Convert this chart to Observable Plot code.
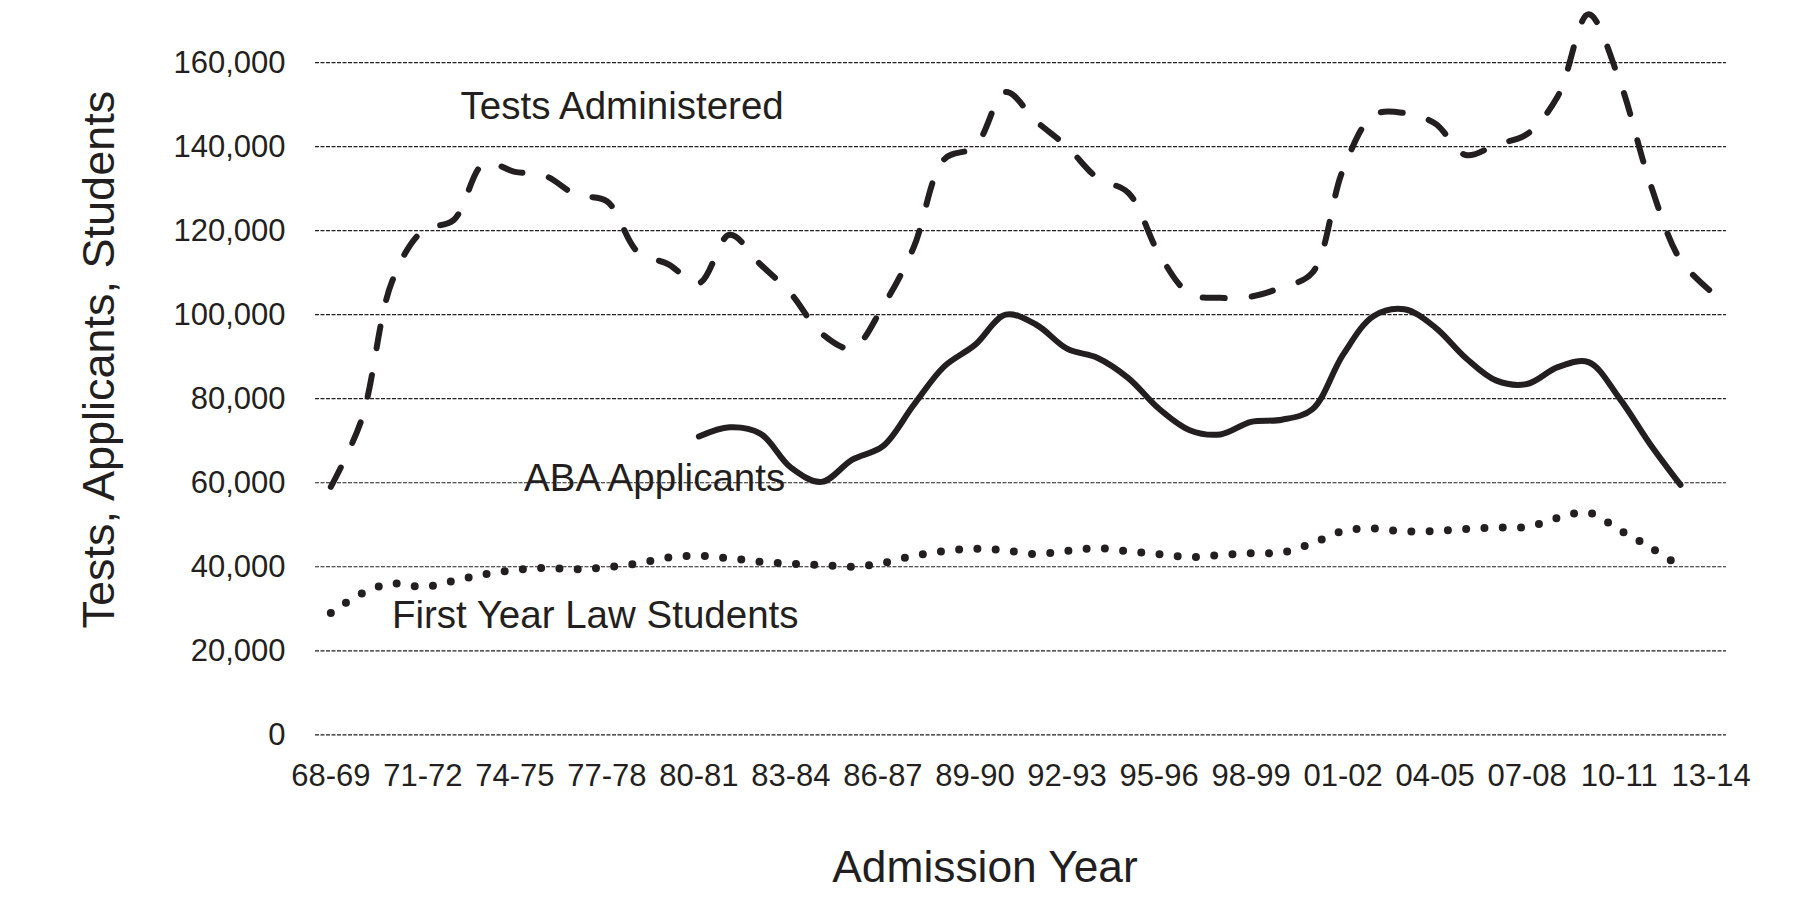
<!DOCTYPE html>
<html>
<head>
<meta charset="utf-8">
<script src="https://cdn.jsdelivr.net/npm/d3@7"></script>
<script src="https://cdn.jsdelivr.net/npm/@observablehq/plot@0.6"></script>
<style>
  html, body { margin: 0; padding: 0; background: #fff; }
  #chart svg { display: block; }
</style>
</head>
<body>
<div id="chart"></div>
<script>
// Admission years (season labels), one per year 1968-69 ... 2013-14
const seasons = ["68-69","69-70","70-71","71-72","72-73","73-74","74-75","75-76","76-77","77-78",
  "78-79","79-80","80-81","81-82","82-83","83-84","84-85","85-86","86-87","87-88",
  "88-89","89-90","90-91","91-92","92-93","93-94","94-95","95-96","96-97","97-98",
  "98-99","99-00","00-01","01-02","02-03","03-04","04-05","05-06","06-07","07-08",
  "08-09","09-10","10-11","11-12","12-13","13-14"];

// Tick labels shown on the x axis (every third season)
const xTickLabels = ["68-69","71-72","74-75","77-78","80-81","83-84","86-87","89-90",
  "92-93","95-96","98-99","01-02","04-05","07-08","10-11","13-14"];

const yTicks = [0, 20000, 40000, 60000, 80000, 100000, 120000, 140000, 160000];

// Tests Administered, 68-69 .. 13-14
const testsAdministered = [59000, 75000, 108000, 120000, 122500, 136000, 134000, 133000, 128500, 127000,
  115000, 112000, 107500, 119000, 112000, 105000, 95500, 92000, 102000, 116000,
  137000, 140000, 153000, 146000, 140000, 132500, 129000, 114500, 105000, 104000,
  104300, 106500, 110000, 134500, 147500, 148000, 145500, 138000, 140500, 143000,
  152000, 171500, 156000, 131500, 113000, 105500];

// ABA Applicants, 80-81 .. 12-13
const abaSeasons = seasons.slice(12, 45);
const abaApplicants = [71000, 73200, 71700, 63600, 60200, 65500, 68700, 78500, 87700, 92800,
  100000, 97600, 91900, 89700, 84900, 77600, 72500, 71500, 74500, 75000,
  77500, 90500, 99700, 101300, 97000, 89700, 84300, 83500, 87500, 88700,
  80200, 69300, 59500];

// First Year Law Students, 68-69 .. 12-13
const firstYearSeasons = seasons.slice(0, 45);
const firstYearStudents = [29000, 33600, 36000, 35200, 36600, 38200, 39200, 39700, 39400, 39900,
  40800, 42200, 42600, 42000, 41200, 40700, 40400, 40000, 40900, 42600,
  43700, 44300, 43900, 43000, 43800, 44400, 43700, 43000, 42300, 42800,
  43200, 43400, 45600, 48500, 49100, 48400, 48500, 49000, 49300, 49500,
  51600, 52900, 48800, 44700, 40000];

// Series labels: text, season position (fractional index), value at baseline
const seriesLabels = ["Tests Administered", "ABA Applicants", "First Year Law Students"];
const seriesLabelX = [4.23, 6.30, 1.99];
const seriesLabelY = [146500, 58000, 25400];

const idx = s => seasons.indexOf(s);
const testsData = testsAdministered.map((v, i) => ({x: i, y: v}));
const abaData = abaApplicants.map((v, i) => ({x: idx(abaSeasons[i]), y: v}));
const fyData = firstYearStudents.map((v, i) => ({x: idx(firstYearSeasons[i]), y: v}));
const labelData = seriesLabels.map((t, i) => ({t, x: seriesLabelX[i], y: seriesLabelY[i]}));

const ink = "#231f20";
const font = "'Liberation Sans', Arial, Helvetica, sans-serif";

const chart = Plot.plot({
  width: 1814,
  height: 907,
  marginLeft: 315,
  marginRight: 88,
  marginTop: 62.1,
  marginBottom: 172.7,
  style: {fontFamily: font, color: ink, background: "#fff", overflow: "visible"},
  x: {type: "linear", domain: [-0.5, 45.5]},
  y: {domain: [0, 160000]},
  marks: [
    Plot.ruleY(yTicks, {stroke: ink, strokeWidth: 1.2, strokeDasharray: "4,1.5"}),
    Plot.axisY(yTicks, {tickFormat: d3.format(","), tickSize: 0, tickPadding: 30, fontSize: 31, label: null, fill: ink}),
    Plot.axisX(xTickLabels.map(idx), {tickFormat: i => seasons[i], tickSize: 0, tickPadding: 29, fontSize: 31, label: null, fill: ink}),
    Plot.line(fyData, {x: "x", y: "y", curve: "catmull-rom", stroke: ink, strokeWidth: 8,
      strokeDasharray: "0 18.3", strokeLinecap: "round"}),
    Plot.line(abaData, {x: "x", y: "y", curve: "catmull-rom", stroke: ink, strokeWidth: 6,
      strokeLinecap: "round", strokeLinejoin: "round"}),
    Plot.line(testsData, {x: "x", y: "y", curve: "catmull-rom", stroke: ink, strokeWidth: 6,
      strokeDasharray: "22 27", strokeLinecap: "round"}),
    Plot.text(labelData, {x: "x", y: "y", text: "t", textAnchor: "start", lineAnchor: "bottom",
      fontSize: 38.5, fill: ink}),
    Plot.text(["Tests, Applicants, Students"], {text: d => d, frameAnchor: "left", rotate: -90,
      textAnchor: "middle", lineAnchor: "bottom", dx: -202, dy: -39, fontSize: 45, fill: ink}),
    Plot.text(["Admission Year"], {text: d => d, frameAnchor: "bottom", textAnchor: "middle",
      lineAnchor: "bottom", dx: -36, dy: 147, fontSize: 44.3, fill: ink})
  ]
});
document.getElementById("chart").appendChild(chart);
</script>
</body>
</html>
